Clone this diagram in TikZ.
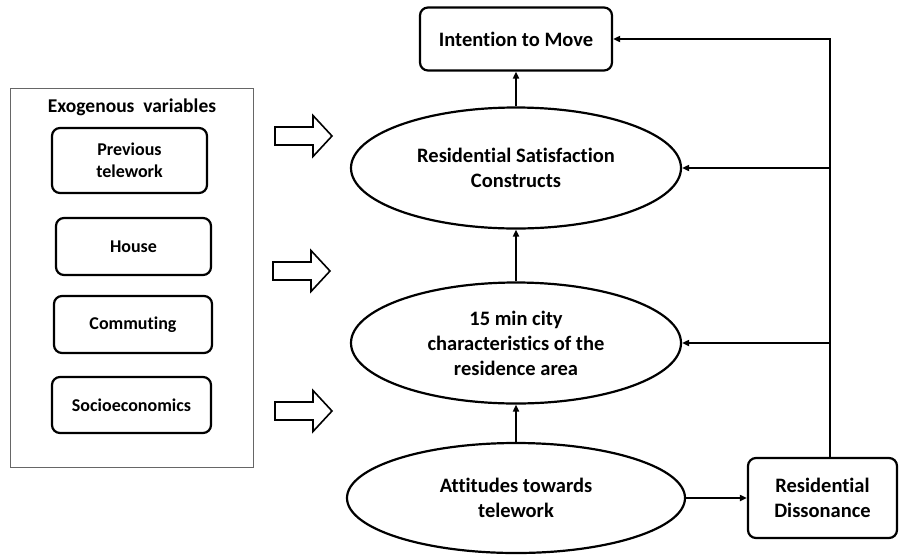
\documentclass[tikz,border=0pt]{standalone}
\usepackage{fontspec}
\setmainfont{Carlito}[Ligatures=NoCommon]
\usepackage{tikz}
\usetikzlibrary{arrows.meta,positioning,shapes.geometric}

\begin{document}
\begin{tikzpicture}[x=1pt,y=-1pt,>={Triangle[length=7pt,width=6pt]},
  thick/.style={line width=2.2pt},
  exobox/.style={draw,thick,rounded corners=8pt,inner sep=0pt,align=center,font=\fontsize{18}{21.7}\selectfont\bfseries},
  mainbox/.style={draw,thick,rounded corners=8pt,inner sep=0pt,align=center,font=\fontsize{20.5}{25}\selectfont\bfseries},
  construct/.style={draw,thick,ellipse,inner sep=0pt,align=center,font=\fontsize{20.5}{25}\selectfont\bfseries},
  link/.style={->,line width=2pt}]
\useasboundingbox (0,0) rectangle (899,555);

% Left: exogenous variables
\draw[gray!80!black,line width=1pt] (10,88) rectangle (253,467);
\node[font=\fontsize{19.5}{22}\selectfont\bfseries] (exo) at (132,107) {Exogenous\ \ variables};
\node[exobox,minimum width=155,minimum height=65] (prev) at (129.5,160.5) {Previous\\telework};
\node[exobox,minimum width=155,minimum height=57] (house) at (133.5,246.5) {House};
\node[exobox,minimum width=158,minimum height=57] (comm) at (133,324.5) {Commuting};
\node[exobox,minimum width=159,minimum height=56] (socio) at (131.5,405) {Socioeconomics};

% Hollow block arrows
\foreach \ax/\ay in {275/136,273/271,275/411}
  \draw[line width=1.6pt] (\ax,{\ay-9}) -- ({\ax+38},{\ay-9}) -- ({\ax+38},{\ay-20.5})
    -- ({\ax+57},\ay) -- ({\ax+38},{\ay+20.5}) -- ({\ax+38},{\ay+9}) -- (\ax,{\ay+9}) -- cycle;

% Right: model
\node[mainbox,minimum width=192,minimum height=63] (intent) at (516,39) {Intention to Move};
\node[construct,minimum width=330,minimum height=121] (sat) at (516,168) {Residential Satisfaction\\Constructs};
\node[construct,minimum width=330,minimum height=121] (city) at (516,343) {15 min city\\characteristics of the\\residence area};
\node[construct,minimum width=338,minimum height=110] (att) at (516,498) {Attitudes towards\\telework};
\node[mainbox,minimum width=149,minimum height=80] (diss) at (822.5,498) {Residential\\Dissonance};

\draw[link] (sat) -- (intent);
\draw[link] (city) -- (sat);
\draw[link] (att) -- (city);
\draw[link] (att.east) -- (diss.west);

% Feedback from dissonance
\coordinate (fb) at (830,39);
\draw[link] (diss.north -| fb) -- (fb) -- (intent.east);
\draw[link] (sat.east -| fb) -- (sat.east);
\draw[link] (city.east -| fb) -- (city.east);
\end{tikzpicture}
\end{document}
